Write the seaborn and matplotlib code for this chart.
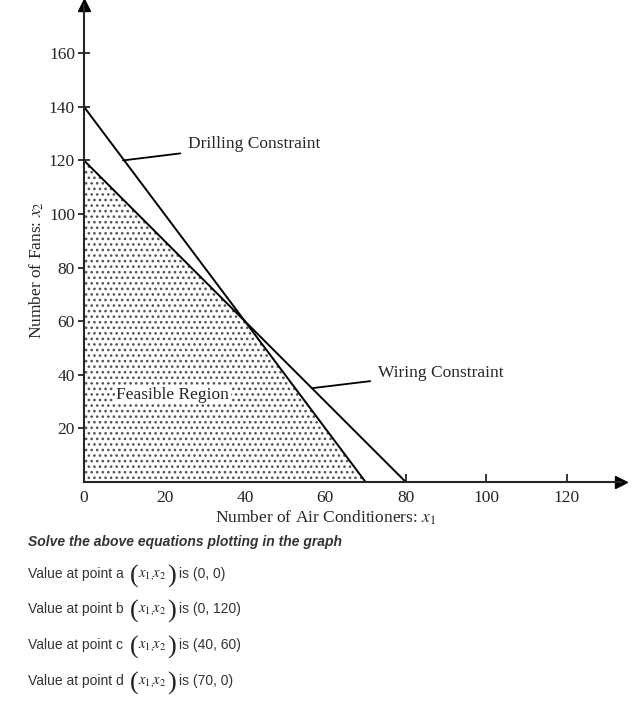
import matplotlib
matplotlib.use("Agg")
import matplotlib.pyplot as plt
import seaborn as sns
import pandas as pd

# ---- data ----
drilling_x = [0, 70]
drilling_y = [140, 0]
wiring_x = [0, 80]
wiring_y = [120, 0]
feasible_x = [0, 0, 40, 70]
feasible_y = [0, 120, 60, 0]
x_ticks = [0, 20, 40, 60, 80, 100, 120]
y_ticks = [20, 40, 60, 80, 100, 120, 140, 160]
points = ["a", "b", "c", "d"]
point_values = ["(0, 0)", "(0, 120)", "(40, 60)", "(70, 0)"]

sns.set_style("white")
plt.rcParams["font.family"] = ["Liberation Serif", "DejaVu Serif"]
plt.rcParams["mathtext.fontset"] = "stix"
plt.rcParams["hatch.linewidth"] = 1.1

fig = plt.figure(figsize=(6.34, 7.06), dpi=100)
ax = fig.add_axes([84/634, (706-482)/706, (621-84)/634, 477/706])

lines = pd.concat([
    pd.DataFrame({"x": drilling_x, "y": drilling_y, "c": "Drilling"}),
    pd.DataFrame({"x": wiring_x, "y": wiring_y, "c": "Wiring"}),
])
ax.fill(feasible_x, feasible_y, facecolor="white", edgecolor="#555555",
        hatch="...", linewidth=0, zorder=1)
sns.lineplot(data=lines, x="x", y="y", units="c", estimator=None, sort=False,
             color="black", linewidth=1.4, ax=ax, zorder=3, legend=False)

ax.set_xlim(0, 133.5)
ax.set_ylim(0, 178)
ax.set_xticks(x_ticks)
ax.set_yticks(y_ticks)
ax.tick_params(axis="x", bottom=True, direction="in", length=6, width=1.3,
               labelsize=12.5, pad=6)
ax.tick_params(axis="y", left=True, direction="inout", length=9, width=1.3,
               labelsize=12.5, pad=2)
for s in ["top", "right"]:
    ax.spines[s].set_visible(False)
for s in ["left", "bottom"]:
    ax.spines[s].set_linewidth(1.5)
    ax.spines[s].set_zorder(4)

ax.plot(1, 0, ">k", markersize=9, transform=ax.get_yaxis_transform(), clip_on=False)
ax.plot(0, 1, "^k", markersize=9, transform=ax.get_xaxis_transform(), clip_on=False)

ax.set_xlabel(r"Number of Air Conditioners: $x_1$", fontsize=12.5, labelpad=2)
ax.set_ylabel(r"Number of Fans: $x_2$", fontsize=12.5)
ax.xaxis.set_label_coords(0.45, -0.055)
ax.yaxis.set_label_coords(-0.071, 0.445)

ax.annotate("Drilling Constraint", xy=(9.7, 120), xytext=(25.8, 126),
            fontsize=12.5, va="center", ha="left",
            arrowprops=dict(arrowstyle="-", color="black", lw=1.3, shrinkA=3, shrinkB=0))
ax.annotate("Wiring Constraint", xy=(56.6, 35), xytext=(73, 40.8),
            fontsize=12.5, va="center", ha="left",
            arrowprops=dict(arrowstyle="-", color="black", lw=1.3, shrinkA=3, shrinkB=0))
ax.text(22.1, 32.5, "Feasible Region", fontsize=12.5, ha="center", va="center",
        zorder=5, bbox=dict(facecolor="white", edgecolor="none", pad=1))

# ---- text below ----
sans = ["Liberation Sans", "DejaVu Sans"]
fig.text(28/634, 1 - 542/706, "Solve the above equations plotting in the graph",
         family=sans, fontsize=10, fontweight="bold", fontstyle="italic",
         color="#333333", va="center", ha="left")
row_y = [574, 609, 645, 681]
for p, v, yy in zip(points, point_values, row_y):
    fy = 1 - yy/706
    fig.text(28/634, fy, f"Value at point {p}", family=sans, fontsize=10,
             color="#333333", va="center", ha="left")
    fig.text(130/634, 1 - (yy + 2)/706, "(", fontsize=19, color="#222222",
             va="center", ha="left")
    fig.text(138/634, 1 - (yy + 1)/706, r"$x_{1,}\!x_{2}$", fontsize=10.5,
             color="#222222", va="center", ha="left")
    fig.text(167/634, 1 - (yy + 2)/706, ")", fontsize=19, color="#222222",
             va="center", ha="left")
    fig.text(179/634, fy, f"is {v}", family=sans, fontsize=10,
             color="#333333", va="center", ha="left")

fig.savefig("out.png", dpi=100)
